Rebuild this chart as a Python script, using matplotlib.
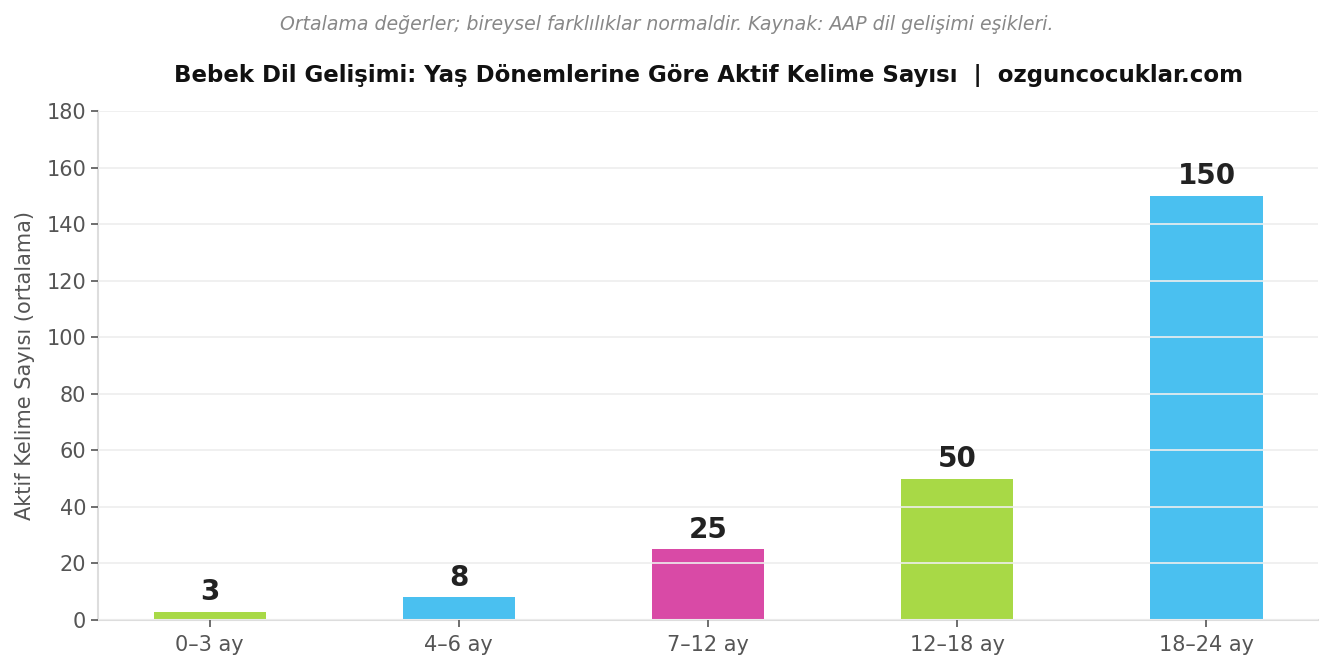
import matplotlib
matplotlib.use("Agg")
import matplotlib.pyplot as plt

# data
categories = ["0–3 ay", "4–6 ay", "7–12 ay", "12–18 ay", "18–24 ay"]
values = [3, 8, 25, 50, 150]
colors = ["#A8D946", "#4AC0F0", "#D94AA6", "#A8D946", "#4AC0F0"]

plt.rcParams['font.family'] = ['DejaVu Sans']

fig = plt.figure(figsize=(13.34, 6.7), dpi=100)
ax = fig.add_axes([0.0735, 0.0746, 0.9145, 0.7594])

x = range(len(categories))
bars = ax.bar(x, values, width=0.45, color=colors, zorder=2)

# grid drawn over the bars
ax.set_axisbelow(False)
ax.yaxis.grid(True, color="#eeeeee", linewidth=1.2, zorder=3)
ax.xaxis.grid(False)

for b, v in zip(bars, values):
    ax.annotate(str(v), (b.get_x() + b.get_width() / 2, v),
                xytext=(0, 4), textcoords="offset points",
                ha="center", va="bottom", fontsize=20, fontweight="bold",
                color="#222222", zorder=4)

ax.set_xticks(list(x))
ax.set_xticklabels(categories)
ax.set_ylim(0, 180)
ax.set_yticks(range(0, 181, 20))
ax.tick_params(axis="both", labelsize=15, colors="#555555", length=5, width=1.2)
ax.tick_params(axis="x", pad=6)
ax.set_ylabel("Aktif Kelime Sayısı (ortalama)", fontsize=15, color="#555555", labelpad=8)

for s in ["top", "right"]:
    ax.spines[s].set_visible(False)
for s in ["left", "bottom"]:
    ax.spines[s].set_color("#dddddd")
    ax.spines[s].set_linewidth(1.5)

ax.set_title("Bebek Dil Gelişimi: Yaş Dönemlerine Göre Aktif Kelime Sayısı  |  ozguncocuklar.com",
             fontsize=16.5, fontweight="bold", color="#111111", pad=21)
fig.text(0.5, 0.963, "Ortalama değerler; bireysel farklılıklar normaldir. Kaynak: AAP dil gelişimi eşikleri.",
         ha="center", va="center", fontsize=13.6, style="italic", color="#888888")

fig.savefig("out.png", dpi=100)
